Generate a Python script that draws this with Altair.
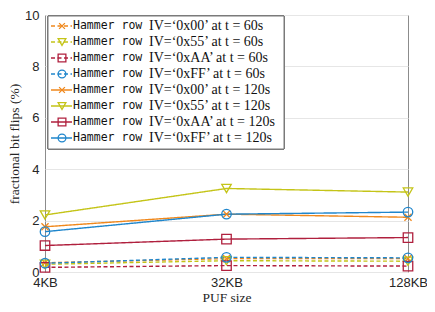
import altair as alt
import pandas as pd

sizes = ["4KB", "32KB", "128KB"]
ivs = ["0x00", "0x55", "0xAA", "0xFF"]
times = ["60s", "120s"]

# fractional bit flips (%) at t = 60s
flips_60_0x00 = [0.36, 0.52, 0.52]
flips_60_0x55 = [0.30, 0.44, 0.42]
flips_60_0xAA = [0.18, 0.25, 0.23]
flips_60_0xFF = [0.34, 0.57, 0.55]
# fractional bit flips (%) at t = 120s
flips_120_0x00 = [1.76, 2.25, 2.13]
flips_120_0x55 = [2.22, 3.25, 3.11]
flips_120_0xAA = [1.03, 1.28, 1.34]
flips_120_0xFF = [1.57, 2.25, 2.33]

colors = ["#F0881C", "#C4C418", "#B0203E", "#1F86CC"]
cross_path = "M-0.75,-0.75L0.75,0.75M-0.75,0.75L0.75,-0.75"
shapes = [cross_path, "triangle-down", "square", "circle"]

series = {
    ("0x00", "60s"): flips_60_0x00,
    ("0x55", "60s"): flips_60_0x55,
    ("0xAA", "60s"): flips_60_0xAA,
    ("0xFF", "60s"): flips_60_0xFF,
    ("0x00", "120s"): flips_120_0x00,
    ("0x55", "120s"): flips_120_0x55,
    ("0xAA", "120s"): flips_120_0xAA,
    ("0xFF", "120s"): flips_120_0xFF,
}

rows = []
for (iv, t), vals in series.items():
    for s, v in zip(sizes, vals):
        rows.append({"size": s, "iv": iv, "t": t, "value": v})
df = pd.DataFrame(rows)

leg_rows = []
for i, (iv, t) in enumerate(series.keys()):
    leg_rows.append({"row": i, "iv": iv, "t": t,
                     "mono": "Hammer row",
                     "serif": f"IV=\u2018{iv}\u2019 at t = {t}"})
leg = pd.DataFrame(leg_rows)

color_scale = alt.Scale(domain=ivs, range=colors)
shape_scale = alt.Scale(domain=ivs, range=shapes)
dash_scale = alt.Scale(domain=times, range=[[4, 2.5], [1, 0]])

x_enc = alt.X("size:O", sort=sizes, scale=alt.Scale(domain=sizes, padding=0),
              axis=alt.Axis(title="PUF size", labelAngle=0, ticks=False,
                            labelPadding=4, titlePadding=1, domain=False, grid=False))
y_enc = alt.Y("value:Q", scale=alt.Scale(domain=[0, 10], nice=False),
              axis=alt.Axis(title="fractional bit flips (%)", values=[0, 2, 4, 6, 8, 10],
                            ticks=False, labelPadding=6, titlePadding=3, domain=False,
                            grid=True, gridColor="#e6e6e6"))

lines = alt.Chart(df).mark_line(strokeWidth=1.4).encode(
    x=x_enc, y=y_enc,
    color=alt.Color("iv:N", scale=color_scale, legend=None),
    strokeDash=alt.StrokeDash("t:N", scale=dash_scale, legend=None),
)
points = alt.Chart(df).mark_point(filled=False, size=90, strokeWidth=1.3, opacity=1).encode(
    x=alt.X("size:O", sort=sizes), y="value:Q",
    color=alt.Color("iv:N", scale=color_scale, legend=None),
    shape=alt.Shape("iv:N", scale=shape_scale, legend=None),
)
data_layer = alt.layer(lines, points)

leg_y = alt.Y("row:Q", scale=alt.Scale(domain=[0, 7], range=[11, 123]), axis=None)

box = alt.Chart(leg).mark_rect(fill="white", stroke="#7a7a7a", strokeWidth=1).encode(
    x=alt.value(3), x2=alt.value(239), y=alt.value(1), y2=alt.value(134))
seg = alt.Chart(leg).mark_rule(strokeWidth=1.4).encode(
    x=alt.value(6), x2=alt.value(27), y=leg_y,
    color=alt.Color("iv:N", scale=color_scale, legend=None),
    strokeDash=alt.StrokeDash("t:N", scale=dash_scale, legend=None))
lpts = alt.Chart(leg).mark_point(filled=False, size=60, strokeWidth=1.3, opacity=1).encode(
    x=alt.value(17), y=leg_y,
    color=alt.Color("iv:N", scale=color_scale, legend=None),
    shape=alt.Shape("iv:N", scale=shape_scale, legend=None))
mono = alt.Chart(leg).mark_text(align="left", baseline="middle", font="DejaVu Sans Mono",
                                fontSize=11.5, color="#111").encode(
    x=alt.value(28), y=leg_y, text="mono:N")
serif = alt.Chart(leg).mark_text(align="left", baseline="middle", font="Liberation Serif",
                                 fontSize=14, color="#111").encode(
    x=alt.value(104), y=leg_y, text="serif:N")

legend_layer = alt.layer(box, seg, lpts, mono, serif)

chart = alt.layer(data_layer, legend_layer).resolve_scale(y="independent").properties(
    width=363, height=257,
    autosize=alt.AutoSizeParams(type="none"),
    padding={"left": 37, "top": 7, "right": 19, "bottom": 32},
).configure_view(stroke="#8c8c8c", strokeWidth=1).configure_axis(
    labelFont="Liberation Sans", labelFontSize=13, labelColor="#262626",
    titleFont="Liberation Serif", titleFontSize=13.5, titleFontWeight="normal",
    titleColor="#262626",
)

chart.save("out.html", embed_options={"renderer": "svg", "actions": False})
